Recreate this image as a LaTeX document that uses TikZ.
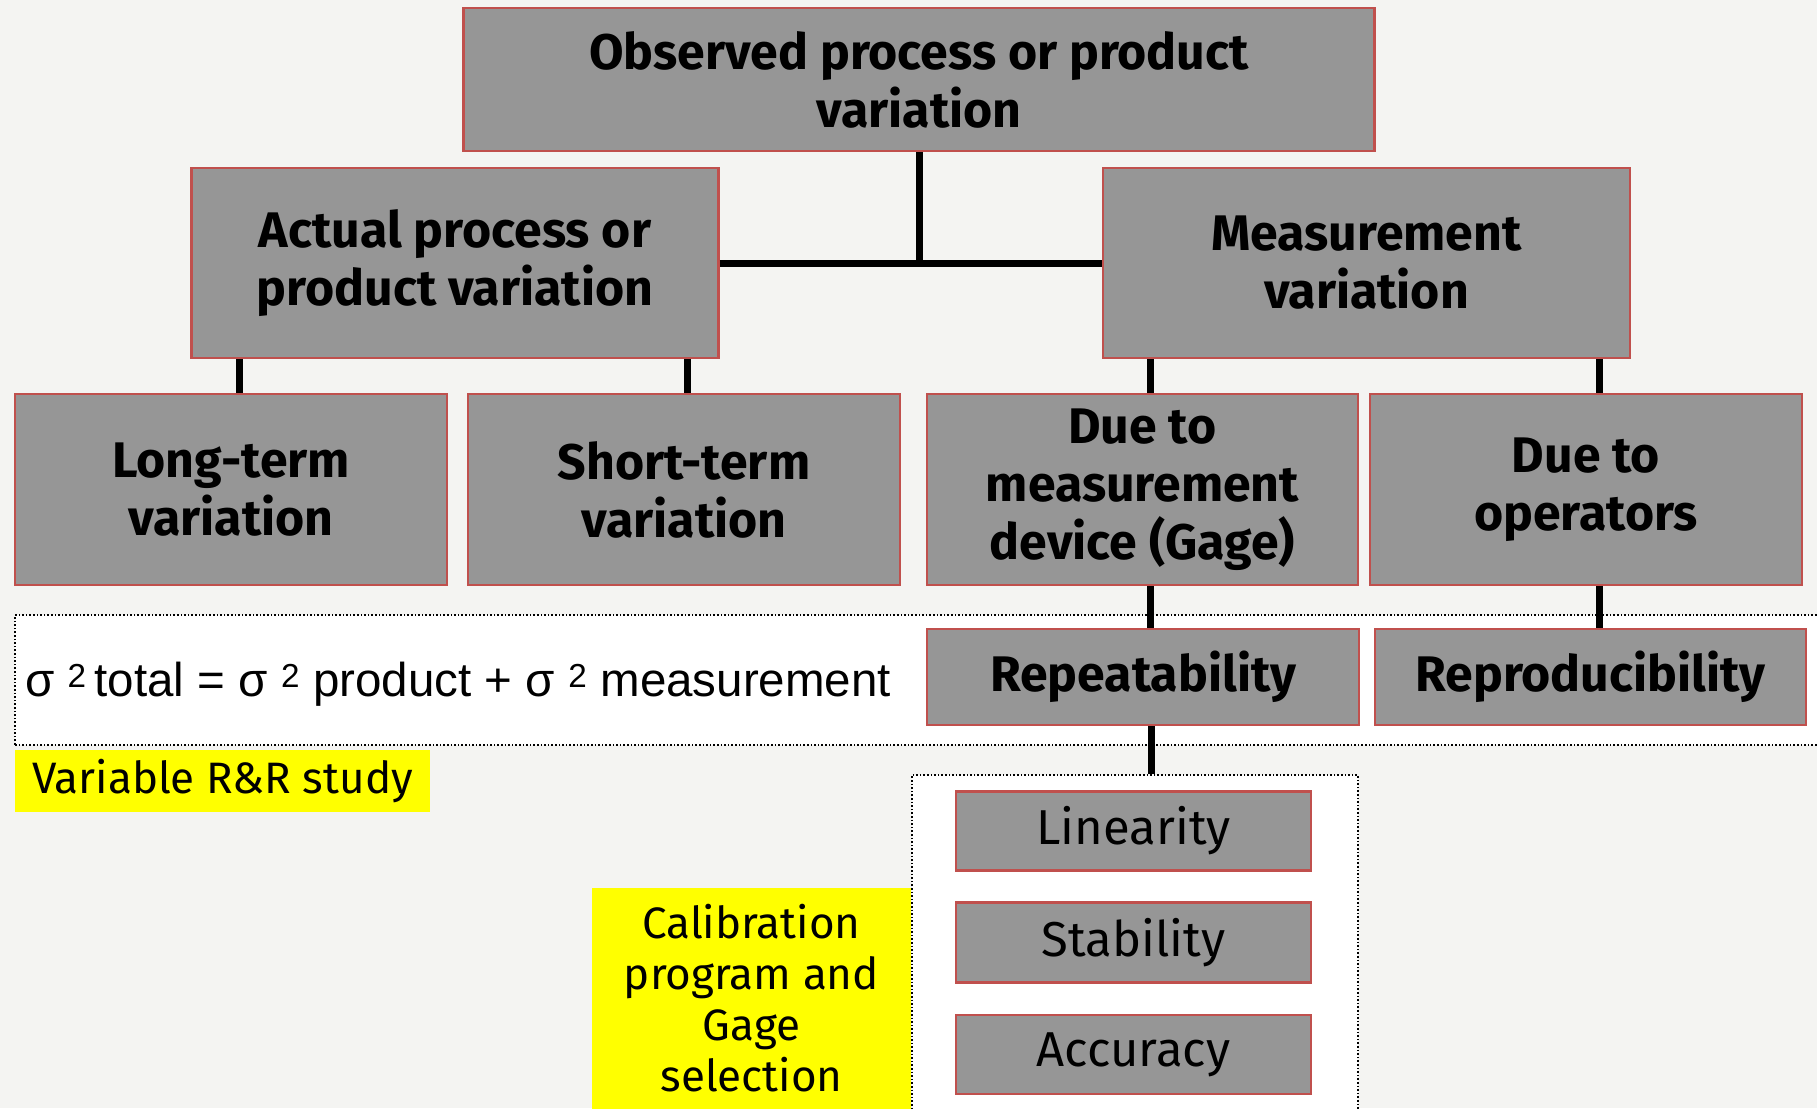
\documentclass[tikz,border=0pt]{standalone}
\usepackage{fontspec}
\setmainfont{Fira Sans}
\newfontfamily\eqfont{Liberation Sans}
\definecolor{boxgray}{RGB}{150,150,150}
\definecolor{boxred}{RGB}{192,80,77}
\definecolor{pagebg}{RGB}{244,244,242}
\definecolor{notey}{RGB}{255,255,0}
\begin{document}
\begin{tikzpicture}[x=1pt,y=-1pt,
  box/.style={draw=boxred,line width=2.8pt,fill=boxgray,inner sep=0pt,
    align=center,font=\fontsize{50}{58}\selectfont\bfseries},
  subbox/.style={box,font=\fontsize{49}{58}\selectfont},
  note/.style={fill=notey,inner sep=0pt,align=center,
    font=\fontsize{44}{51}\selectfont},
  frame/.style={draw=black,line width=1.6pt,dotted,fill=white,inner sep=0pt},
  conn/.style={draw=black,line width=7pt}]
\fill[pagebg] (0,0) rectangle (1817,1108);
\useasboundingbox (0,0) rectangle (1817,1108);
\clip (0,0) rectangle (1817,1108);

% white dotted bands behind the lower levels
\node[frame,minimum width=1815,minimum height=130] (band) at (922.5,680) {};
\node[frame,minimum width=446,minimum height=345] (calframe) at (1135,947.5) {};

% hierarchy boxes
\node[box,minimum width=911,minimum height=143] (top) at (919,79.5)
  {Observed process or product\\variation};
\node[box,minimum width=527,minimum height=190] (actual) at (455,263)
  {Actual process or\\product variation};
\node[box,minimum width=527,minimum height=190] (meas) at (1366.5,263)
  {Measurement\\variation};
\node[box,minimum width=432,minimum height=191] (long) at (231,489.5)
  {Long-term\\variation};
\node[box,minimum width=432,minimum height=191] (short) at (684,489.5)
  {Short-term\\variation};
\node[box,minimum width=431,minimum height=191] (gage) at (1142.5,489.5)
  {Due to\\measurement\\device (Gage)};
\node[box,minimum width=432,minimum height=191] (oper) at (1586,489.5)
  {Due to\\operators};
\node[box,minimum width=432,minimum height=96] (repeat) at (1143,677)
  {Repeatability};
\node[box,minimum width=431,minimum height=96] (reprod) at (1590.5,677)
  {Reproducibility};

% gage sub-studies
\node[subbox,minimum width=355,minimum height=79] (lin) at (1133.5,831)
  {Linearity};
\node[subbox,minimum width=355,minimum height=80] (stab) at (1133.5,942.7)
  {Stability};
\node[subbox,minimum width=355,minimum height=79] (acc) at (1133.5,1054.5)
  {Accuracy};

% variance relation and study labels
\node[anchor=west,inner sep=0pt,font=\eqfont\fontsize{47.5}{52}\selectfont] (eq) at (25,684)
  {σ \textsuperscript{2}\,total = σ \textsuperscript{2} product + σ \textsuperscript{2} measurement};
\node[note,minimum width=415,minimum height=62] (rr) at (222.5,781)
  {Variable R\&R study};
\node[note,minimum width=319,minimum height=221] (cal) at (751.5,998)
  {Calibration\\program and\\Gage\\selection};

% connectors
\draw[conn] (top.south) -- (top.south |- actual.east);
\draw[conn] (actual.east) -- (meas.west);
\draw[conn] ([xshift=8pt]long.north) -- ([xshift=8pt]long.north |- actual.south);
\draw[conn] ([xshift=3pt]short.north) -- ([xshift=3pt]short.north |- actual.south);
\draw[conn] ([xshift=8pt]gage.north) -- ([xshift=8pt]gage.north |- meas.south);
\draw[conn] ([xshift=13pt]oper.north) -- ([xshift=13pt]oper.north |- meas.south);
\draw[conn] ([xshift=8pt]gage.south) -- ([xshift=8pt]gage.south |- repeat.north);
\draw[conn] ([xshift=13pt]oper.south) -- ([xshift=13pt]oper.south |- reprod.north);
\draw[conn] ([xshift=8pt]repeat.south) -- ([xshift=8pt]repeat.south |- calframe.north);
\end{tikzpicture}
\end{document}
